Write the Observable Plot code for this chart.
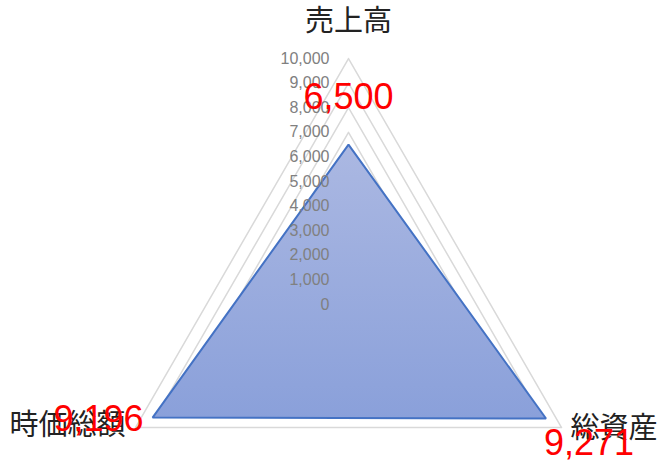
<!DOCTYPE html>
<html>
<head>
<meta charset="utf-8">
<script src="https://cdn.jsdelivr.net/npm/d3@7"></script>
<script src="https://cdn.jsdelivr.net/npm/@observablehq/plot@0.6"></script>
<style>
  html, body { margin: 0; padding: 0; background: #fff; }
  #chart svg { display: block; }
</style>
</head>
<body>
<div id="chart"></div>
<script>
// ---- data ----
const categories = ["売上高", "総資産", "時価総額"];
const values = [6500, 9271, 9196];
const dataLabels = ["6,500", "9,271", "9,196"];
const ticks = [0, 1000, 2000, 3000, 4000, 5000, 6000, 7000, 8000, 9000, 10000];
const tickLabels = ["0", "1,000", "2,000", "3,000", "4,000", "5,000", "6,000", "7,000", "8,000", "9,000", "10,000"];
const maxValue = 10000;

// ---- polar helpers (data space) ----
const angle = i => (90 - 120 * i) * Math.PI / 180;
const px = (r, i) => r * Math.cos(angle(i));
const py = (r, i) => r * Math.sin(angle(i));

const gridRows = ticks.filter(t => t > 0).flatMap(t =>
  categories.map((c, i) => ({ level: t, x: px(t, i), y: py(t, i) })));
const seriesRows = categories.map((c, i) => ({ cat: c, v: values[i], label: dataLabels[i], x: px(values[i], i), y: py(values[i], i) }));
const catRows = categories.map((c, i) => ({ cat: c, i, x: px(maxValue, i), y: py(maxValue, i) }));
const tickRows = ticks.map((t, k) => ({ t, label: tickLabels[k] }));

const W = 670, H = 472;
const scale = 246 / maxValue;  // pixels per unit
const cx = 348, cy = 304;

const sans = "'Liberation Sans', Arial, sans-serif";
const cjk = "'Noto Sans CJK JP', sans-serif";

const svg = Plot.plot({
  width: W, height: H,
  margin: 0,
  x: { domain: [-cx / scale, (W - cx) / scale], axis: null },
  y: { domain: [-(H - cy) / scale, cy / scale], axis: null },
  marks: [
    Plot.line(gridRows, { x: "x", y: "y", z: "level", curve: "linear-closed", stroke: "#d9d9d9", strokeWidth: 1.5 }),
    Plot.line(seriesRows, { x: "x", y: "y", curve: "linear-closed", fill: "url(#radarFill)", stroke: "#4472c4", strokeWidth: 2, strokeLinejoin: "miter" }),
    Plot.text(tickRows, { x: 0, y: "t", text: "label", textAnchor: "end", dx: -19, fill: "#808080", fontSize: 16, fontFamily: sans }),
    Plot.text(catRows.filter(d => d.i === 0), { x: "x", y: "y", text: "cat", dy: -37, fill: "#222", fontSize: 29, fontFamily: cjk }),
    Plot.text(catRows.filter(d => d.i === 1), { x: "x", y: "y", text: "cat", textAnchor: "start", dx: 9, dy: 1, fill: "#222", fontSize: 29, fontFamily: cjk }),
    Plot.text(catRows.filter(d => d.i === 2), { x: "x", y: "y", text: "cat", textAnchor: "end", dx: -10, dy: -2, fill: "#222", fontSize: 29, fontFamily: cjk }),
    Plot.text(seriesRows.filter((d, i) => i === 0), { x: "x", y: "y", text: "label", dy: -47, fill: "#ff0000", fontSize: 36, fontFamily: sans }),
    Plot.text(seriesRows.filter((d, i) => i === 1), { x: "x", y: "y", text: "label", dx: 43, dy: 25, fill: "#ff0000", fontSize: 36, fontFamily: sans }),
    Plot.text(seriesRows.filter((d, i) => i === 2), { x: "x", y: "y", text: "label", dx: -54, dy: 2, fill: "#ff0000", fontSize: 36, fontFamily: sans })
  ]
});

// gradient fill for the series polygon
const ns = "http://www.w3.org/2000/svg";
const defs = document.createElementNS(ns, "defs");
const grad = document.createElementNS(ns, "linearGradient");
grad.setAttribute("id", "radarFill");
grad.setAttribute("x1", "0"); grad.setAttribute("y1", "0");
grad.setAttribute("x2", "0"); grad.setAttribute("y2", "1");
[["0%", "#abb8e2"], ["100%", "#8aa0da"]].forEach(([o, c]) => {
  const s = document.createElementNS(ns, "stop");
  s.setAttribute("offset", o); s.setAttribute("stop-color", c);
  grad.appendChild(s);
});
defs.appendChild(grad);
svg.insertBefore(defs, svg.firstChild);

document.getElementById("chart").appendChild(svg);
</script>
</body>
</html>
